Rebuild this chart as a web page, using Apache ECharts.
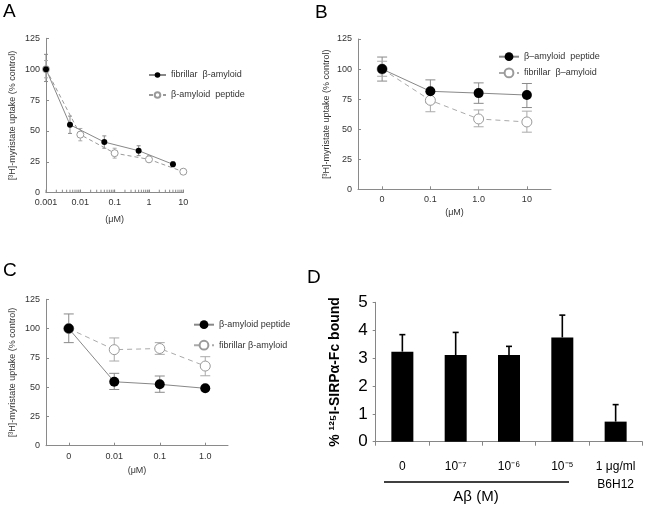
<!DOCTYPE html>
<html><head><meta charset="utf-8">
<script src="https://cdn.jsdelivr.net/npm/echarts@6/dist/echarts.min.js"></script>
<style>html,body{margin:0;padding:0;background:#fff}#c{width:646px;height:508px}</style>
</head><body><div id="c"></div>
<script>
// ---------- Panel A (log x) ----------
const aFibX  = [0.001, 0.005, 0.05, 0.5, 5];
const aFibY  = [100, 55, 41, 34, 23];
const aFibLo = [90, 48, 36, 30, 21];
const aFibHi = [112, 62, 46, 38, 25];
const aPepX  = [0.001, 0.01, 0.1, 1, 10];
const aPepY  = [100, 47, 32, 27, 17];
const aPepLo = [93, 42, 28, 25, 16];
const aPepHi = [107, 52, 36, 30, 18];
const aTicks = [0.001, 0.01, 0.1, 1, 10];
const aMinorMult = [2, 3, 4, 5, 6, 7, 8, 9];
// ---------- Panel B ----------
const bCats  = ['0', '0.1', '1.0', '10'];
const bPep   = [100, 81.5, 80, 78.4];
const bPepLo = [90, 72, 71.5, 68];
const bPepHi = [110, 91, 88.5, 88];
const bFib   = [100, 74, 58.5, 56];
const bFibLo = [94, 64.5, 52, 47.5];
const bFibHi = [106.5, 81, 66, 65];
// ---------- Panel C ----------
const cCats  = ['0', '0.01', '0.1', '1.0'];
const cPep   = [100, 54.6, 52.4, 49];
const cPepLo = [88, 48, 45.6, 49];
const cPepHi = [112.5, 61.8, 59.5, 49];
const cFib   = [100, 82, 83, 68];
const cFibLo = [100, 72.3, 78, 59.7];
const cFibHi = [100, 92, 88, 76];
// ---------- Panel D ----------
const dCats  = ['0', '10\u207B\u2077', '10\u207B\u2076', '10\u207B\u2075', '1 \u03BCg/ml\nB6H12'];
const dVals  = [3.23, 3.11, 3.11, 3.74, 0.72];
const dErrHi = [3.84, 3.92, 3.42, 4.54, 1.33];

const FONT = 'Liberation Sans';
const GRAY = '#8a8a8a';
const yTitle = '[\u00B3H]-myristate uptake (% control)';

// log-axis tick positions: decades plus 2..9 multiples
const aTickVals = [];
aTicks.forEach((d, i) => {
  aTickVals.push(d);
  if (i < aTicks.length - 1) aMinorMult.forEach(m => aTickVals.push(+(d * m).toPrecision(3)));
});

function errRender(color, capW, lw, both) {
  return function (params, api) {
    const x = api.value(0), lo = api.value(1), hi = api.value(2);
    if (lo === hi) return null;
    const pLo = api.coord([x, lo]), pHi = api.coord([x, hi]);
    const st = { stroke: color, lineWidth: lw };
    const ch = [
      { type: 'line', shape: { x1: pLo[0], y1: pLo[1], x2: pHi[0], y2: pHi[1] }, style: st },
      { type: 'line', shape: { x1: pHi[0] - capW, y1: pHi[1], x2: pHi[0] + capW, y2: pHi[1] }, style: st }
    ];
    if (both) ch.push({ type: 'line', shape: { x1: pLo[0] - capW, y1: pLo[1], x2: pLo[0] + capW, y2: pLo[1] }, style: st });
    return { type: 'group', children: ch };
  };
}
// minor ticks for log axis drawn through the axis scale
function tickRender(params, api) {
  const p = api.coord([api.value(0), 0]);
  return { type: 'line', shape: { x1: p[0], y1: p[1], x2: p[0], y2: p[1] - 3 }, style: { stroke: GRAY, lineWidth: 1 } };
}
const zipXY = (xs, ys) => xs.map((x, i) => [x, ys[i]]);
const zipErr = (xs, lo, hi) => xs.map((x, i) => [x, lo[i], hi[i]]);
const idx = arr => arr.map((_, i) => i);

function smallYAxis(gi, gap) {
  return {
    gridIndex: gi, type: 'value', min: 0, max: 125, interval: 25,
    name: yTitle, nameLocation: 'middle', nameRotate: 90, nameGap: gap,
    nameTextStyle: { fontFamily: FONT, fontSize: 9, color: '#333' },
    axisLine: { show: true, lineStyle: { color: GRAY, width: 1 } },
    axisTick: { show: true, inside: true, length: 3, lineStyle: { color: GRAY } },
    axisLabel: { fontFamily: FONT, fontSize: 9, color: '#333', margin: 6 },
    splitLine: { show: false }
  };
}
function catXAxis(gi, cats, gap) {
  return {
    gridIndex: gi, type: 'category', data: cats, boundaryGap: true,
    name: '(\u03BCM)', nameLocation: 'middle', nameGap: gap,
    nameTextStyle: { fontFamily: FONT, fontSize: 9, color: '#333' },
    axisLine: { show: true, lineStyle: { color: GRAY, width: 1 } },
    axisTick: { show: true, inside: true, alignWithLabel: true, length: 3, lineStyle: { color: GRAY } },
    axisLabel: { fontFamily: FONT, fontSize: 9, color: '#333', margin: 6 },
    splitLine: { show: false }
  };
}
const filled = sz => ({ symbol: 'circle', symbolSize: sz, itemStyle: { color: '#000', borderColor: '#000', borderWidth: 0 } });
const open = sz => ({ symbol: 'circle', symbolSize: sz, itemStyle: { color: '#fff', borderColor: '#9a9a9a', borderWidth: 1 } });

const nA1 = 'fibrillar  \u03B2-amyloid', nA2 = '\u03B2-amyloid  peptide';
const nB1 = '\u03B2\u2013amyloid  peptide', nB2 = 'fibrillar  \u03B2\u2013amyloid';
const nC1 = '\u03B2-amyloid peptide', nC2 = 'fibrillar \u03B2-amyloid';

const option = {
  backgroundColor: '#fff',
  animation: false,
  textStyle: { fontFamily: FONT },
  grid: [
    { left: 46, top: 38.3, width: 137.3, height: 154.4, outerBoundsMode: 'none', containLabel: false },
    { left: 358, top: 39, width: 193, height: 150.3, outerBoundsMode: 'none', containLabel: false },
    { left: 46, top: 299.3, width: 182, height: 146.4, outerBoundsMode: 'none', containLabel: false },
    { left: 375.7, top: 302.3, width: 266.6, height: 139.4, outerBoundsMode: 'none', containLabel: false }
  ],
  xAxis: [
    {
      gridIndex: 0, type: 'log', logBase: 10, min: aTicks[0], max: aTicks[aTicks.length - 1],
      name: '(\u03BCM)', nameLocation: 'middle', nameGap: 22,
      nameTextStyle: { fontFamily: FONT, fontSize: 9, color: '#333' },
      axisLine: { show: true, lineStyle: { color: GRAY, width: 1 } },
      axisTick: { show: true, inside: true, length: 3, lineStyle: { color: GRAY } },
      axisLabel: { fontFamily: FONT, fontSize: 9, color: '#333', margin: 5,
        formatter: v => String(+(+v).toPrecision(3)) },
      splitLine: { show: false }
    },
    catXAxis(1, bCats, 19),
    catXAxis(2, cCats, 20),
    {
      gridIndex: 3, type: 'category', data: dCats, boundaryGap: true,
      axisLine: { show: true, lineStyle: { color: '#868686', width: 1 } },
      axisTick: { show: true, inside: false, alignWithLabel: false, length: 4, lineStyle: { color: '#868686' } },
      axisLabel: { fontFamily: FONT, fontSize: 12, color: '#000', margin: 16, lineHeight: 18, interval: 0 },
      splitLine: { show: false }
    }
  ],
  yAxis: [
    smallYAxis(0, 29),
    smallYAxis(1, 27),
    smallYAxis(2, 29),
    {
      gridIndex: 3, type: 'value', min: 0, max: 5, interval: 1,
      name: '% \u00B9\u00B2\u2075I-SIRP\u03B1-Fc bound', nameLocation: 'middle', nameRotate: 90, nameGap: 34,
      nameTextStyle: { fontFamily: FONT, fontSize: 14, fontWeight: 'bold', color: '#000' },
      axisLine: { show: true, lineStyle: { color: '#868686', width: 1 } },
      axisTick: { show: true, inside: false, length: 3, lineStyle: { color: '#868686' } },
      axisLabel: { fontFamily: FONT, fontSize: 17, color: '#000', margin: 8 },
      splitLine: { show: false }
    }
  ],
  legend: [
    { orient: 'vertical', left: 143, top: 65.5, itemWidth: 17, itemHeight: 7, itemGap: 11,
      data: [nA1, nA2], textStyle: { fontFamily: FONT, fontSize: 9, color: '#333' }, selectedMode: false },
    { orient: 'vertical', left: 493, top: 47.2, itemWidth: 20, itemHeight: 11, itemGap: 6.3,
      data: [nB1, nB2], textStyle: { fontFamily: FONT, fontSize: 9, color: '#333' }, selectedMode: false },
    { orient: 'vertical', left: 188, top: 315.2, itemWidth: 20, itemHeight: 11, itemGap: 10.6,
      data: [nC1, nC2], textStyle: { fontFamily: FONT, fontSize: 9, color: '#333' }, selectedMode: false }
  ],
  series: [
    // A
    { type: 'custom', xAxisIndex: 0, yAxisIndex: 0, z: 1, renderItem: tickRender, data: aTickVals.map(v => [v]), silent: true },
    { type: 'custom', xAxisIndex: 0, yAxisIndex: 0, z: 1, renderItem: errRender(GRAY, 2, 1, true), data: zipErr(aFibX, aFibLo, aFibHi) },
    { type: 'custom', xAxisIndex: 0, yAxisIndex: 0, z: 1, renderItem: errRender('#aaa', 2, 1, true), data: zipErr(aPepX, aPepLo, aPepHi) },
    Object.assign({ name: nA1, type: 'line', xAxisIndex: 0, yAxisIndex: 0, z: 3, data: zipXY(aFibX, aFibY),
      lineStyle: { color: '#888', width: 1, type: 'solid' } }, filled(6)),
    Object.assign({ name: nA2, type: 'line', xAxisIndex: 0, yAxisIndex: 0, z: 2, data: zipXY(aPepX, aPepY),
      lineStyle: { color: '#999', width: 1, type: [4, 3] } }, open(7)),
    // B
    { type: 'custom', xAxisIndex: 1, yAxisIndex: 1, z: 1, renderItem: errRender(GRAY, 5, 1, true), data: zipErr(idx(bCats), bPepLo, bPepHi) },
    { type: 'custom', xAxisIndex: 1, yAxisIndex: 1, z: 1, renderItem: errRender('#aaa', 5, 1, true), data: zipErr(idx(bCats), bFibLo, bFibHi) },
    Object.assign({ name: nB1, type: 'line', xAxisIndex: 1, yAxisIndex: 1, z: 3, data: bPep,
      lineStyle: { color: '#888', width: 1, type: 'solid' } }, filled(10)),
    Object.assign({ name: nB2, type: 'line', xAxisIndex: 1, yAxisIndex: 1, z: 2, data: bFib,
      lineStyle: { color: '#aaa', width: 1, type: [5, 4] } }, open(10)),
    // C
    { type: 'custom', xAxisIndex: 2, yAxisIndex: 2, z: 1, renderItem: errRender(GRAY, 5, 1, true), data: zipErr(idx(cCats), cPepLo, cPepHi) },
    { type: 'custom', xAxisIndex: 2, yAxisIndex: 2, z: 1, renderItem: errRender('#aaa', 5, 1, true), data: zipErr(idx(cCats), cFibLo, cFibHi) },
    Object.assign({ name: nC1, type: 'line', xAxisIndex: 2, yAxisIndex: 2, z: 3, data: cPep,
      lineStyle: { color: '#888', width: 1, type: 'solid' } }, filled(10)),
    Object.assign({ name: nC2, type: 'line', xAxisIndex: 2, yAxisIndex: 2, z: 2, data: cFib,
      lineStyle: { color: '#aaa', width: 1, type: [5, 4] } }, open(10)),
    // D
    { type: 'bar', xAxisIndex: 3, yAxisIndex: 3, data: dVals, barWidth: 22, itemStyle: { color: '#000' }, z: 2 },
    { type: 'custom', xAxisIndex: 3, yAxisIndex: 3, z: 3, renderItem: errRender('#000', 3, 1.6, false), data: zipErr(idx(dCats), dVals, dErrHi) }
  ],
  graphic: [
    { type: 'text', left: 3, top: 2, style: { text: 'A', font: '19px Liberation Sans', fill: '#000' } },
    { type: 'text', left: 315, top: 3, style: { text: 'B', font: '19px Liberation Sans', fill: '#000' } },
    { type: 'text', left: 3, top: 261, style: { text: 'C', font: '19px Liberation Sans', fill: '#000' } },
    { type: 'text', left: 307, top: 268, style: { text: 'D', font: '19px Liberation Sans', fill: '#000' } },
    { type: 'line', shape: { x1: 384, y1: 482, x2: 569, y2: 482 }, style: { stroke: '#000', lineWidth: 1.3 } },
    { type: 'text', x: 476, y: 497, style: { text: 'A\u03B2 (M)', font: '15px Liberation Sans', fill: '#000', align: 'center', verticalAlign: 'middle' } }
  ]
};
const chart = echarts.init(document.getElementById('c'), null, { renderer: 'canvas' });
chart.setOption(option);
</script></body></html>
